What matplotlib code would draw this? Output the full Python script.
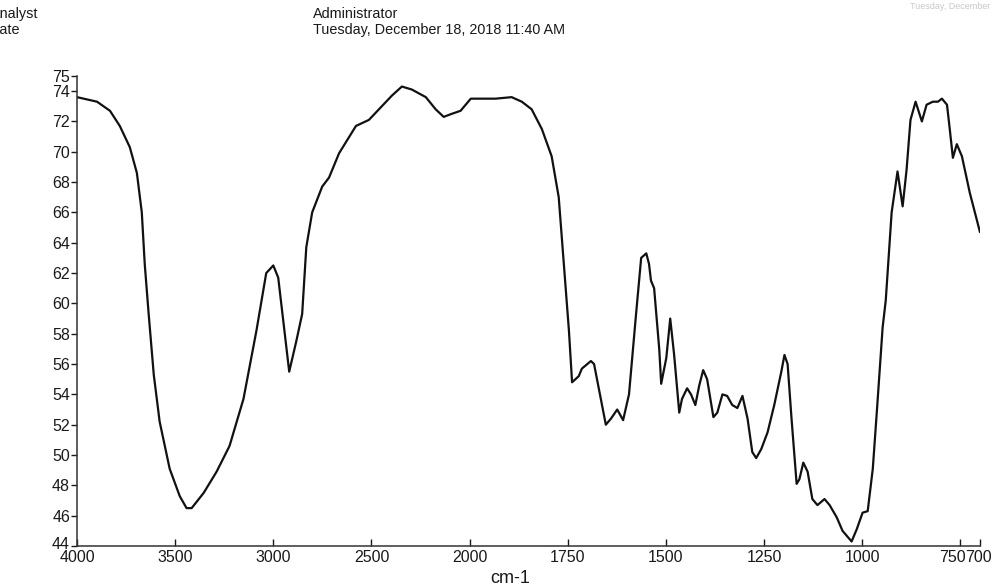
import numpy as np
import matplotlib
matplotlib.use("Agg")
import matplotlib.pyplot as plt
from matplotlib.transforms import ScaledTranslation

plt.rcParams['font.family'] = ['Liberation Sans', 'DejaVu Sans']

# FTIR spectrum: wavenumber (cm-1) and %T
wavenumber = [4000, 3898, 3832, 3782, 3731, 3695, 3670, 3655, 3635, 3609,
              3579, 3528, 3477, 3442, 3416, 3355, 3289, 3223, 3152, 3086,
              3036, 3000, 2975, 2949, 2919, 2883, 2853, 2832, 2802, 2751,
              2716, 2665, 2579, 2513, 2462, 2396, 2345, 2294, 2223, 2173,
              2132, 2091, 2046, 1997, 1977, 1934, 1893, 1867, 1842, 1816,
              1791, 1773, 1760, 1747, 1739, 1722, 1714, 1691, 1683, 1671,
              1653, 1640, 1624, 1609, 1594, 1576, 1563, 1550, 1543, 1538,
              1530, 1517, 1512, 1499, 1489, 1479, 1466, 1459, 1446, 1436,
              1425, 1415, 1405, 1395, 1379, 1369, 1356, 1344, 1331, 1318,
              1305, 1292, 1280, 1270, 1257, 1241, 1224, 1206, 1198, 1190,
              1180, 1167, 1160, 1150, 1139, 1127, 1114, 1096, 1083, 1065,
              1050, 1040, 1027, 1014, 999, 986, 973, 961, 948, 940,
              925, 910, 897, 887, 877, 864, 848, 836, 820, 807,
              797, 784, 777, 769, 759, 746, 726, 700]
transmittance = [73.6, 73.3, 72.7, 71.7, 70.3, 68.6, 66.0, 62.6, 59.3, 55.3,
                 52.2, 49.1, 47.3, 46.5, 46.5, 47.5, 48.9, 50.6, 53.7, 58.2,
                 62.0, 62.5, 61.7, 58.8, 55.5, 57.5, 59.3, 63.7, 66.0, 67.7,
                 68.3, 69.9, 71.7, 72.1, 72.8, 73.7, 74.3, 74.1, 73.6, 72.8,
                 72.3, 72.5, 72.7, 73.5, 73.5, 73.5, 73.6, 73.3, 72.8, 71.5,
                 69.7, 67.0, 62.6, 58.2, 54.8, 55.2, 55.7, 56.2, 56.0, 54.4,
                 52.0, 52.4, 53.0, 52.3, 54.0, 59.3, 63.0, 63.3, 62.6, 61.5,
                 61.0, 57.0, 54.7, 56.4, 59.0, 56.6, 52.8, 53.7, 54.4, 54.0,
                 53.3, 54.6, 55.6, 55.0, 52.5, 52.8, 54.0, 53.9, 53.3, 53.1,
                 53.9, 52.4, 50.2, 49.8, 50.4, 51.5, 53.3, 55.5, 56.6, 56.0,
                 52.4, 48.1, 48.4, 49.5, 48.9, 47.1, 46.7, 47.1, 46.7, 45.9,
                 45.0, 44.7, 44.3, 45.1, 46.2, 46.3, 49.1, 53.5, 58.4, 60.2,
                 66.0, 68.7, 66.4, 68.8, 72.1, 73.3, 72.0, 73.1, 73.3, 73.3,
                 73.5, 73.1, 71.5, 69.6, 70.5, 69.7, 67.3, 64.7]

x_ticks = [4000, 3500, 3000, 2500, 2000, 1750, 1500, 1250, 1000, 750, 700]
y_ticks = [44, 46, 48, 50, 52, 54, 56, 58, 60, 62, 64, 66, 68, 70, 72, 74, 75]


# Abscissa expanded 2x below 2000 cm-1
def fwd(x):
    x = np.asarray(x, dtype=float)
    return np.where(x >= 2000, x, 2 * x - 2000)


def inv(u):
    u = np.asarray(u, dtype=float)
    return np.where(u >= 2000, u, (u + 2000) / 2)


fig = plt.figure(figsize=(9.95, 5.84), dpi=100)
ax = fig.add_axes([0.0774, 0.065, 0.9075, 0.805])
ax.set_xscale('function', functions=(fwd, inv))
ax.plot(wavenumber, transmittance, color='#111111', lw=1.6,
        solid_joinstyle='round', solid_capstyle='round')
ax.set_xlim(4000, 700)
ax.set_ylim(44, 75)

ax.set_xticks(x_ticks)
ax.set_xticklabels([str(t) for t in x_ticks])
ax.set_yticks(y_ticks)
ax.set_yticklabels([str(t) for t in y_ticks])
ax.minorticks_off()

for side in ('top', 'right'):
    ax.spines[side].set_visible(False)
for side in ('left', 'bottom'):
    ax.spines[side].set_linewidth(1.1)
    ax.spines[side].set_color('#333333')

ax.tick_params(axis='y', direction='out', length=4, width=1, pad=1,
               labelsize=11.5, colors='#1a1a1a')
ax.tick_params(axis='x', direction='in', length=5, width=1, pad=3,
               labelsize=11.5, colors='#1a1a1a')


def nudge(label, dx_px, dy_px):
    label.set_transform(label.get_transform() +
                        ScaledTranslation(dx_px / 100, dy_px / 100,
                                          fig.dpi_scale_trans))


# the last two abscissa labels sit edge to edge
xlabels = ax.get_xticklabels()
xlabels[-2].set_horizontalalignment('right')
nudge(xlabels[-2], 5, 0)
xlabels[-1].set_horizontalalignment('left')
nudge(xlabels[-1], -15, 0)

# lowest ordinate label sits a little above its tick
nudge(ax.get_yticklabels()[0], 0, 3)

# Header block
hdr = dict(fontsize=10.4, color='#1a1a1a', va='center')
fig.text(-0.009, 0.976, 'Analyst', ha='left', **hdr)
fig.text(-0.010, 0.9486, 'Date', ha='left', **hdr)
fig.text(0.3146, 0.976, 'Administrator', ha='left', **hdr)
fig.text(0.3146, 0.9486, 'Tuesday, December 18, 2018 11:40 AM', ha='left', **hdr)
fig.text(0.995, 0.997, 'Tuesday, December', ha='right', va='top',
         fontsize=6.5, color='#c8c8c8')

fig.text(0.513, 0.024, 'cm-1', ha='center', va='top', fontsize=13,
         color='#1a1a1a')

fig.savefig('out.png', dpi=100)
